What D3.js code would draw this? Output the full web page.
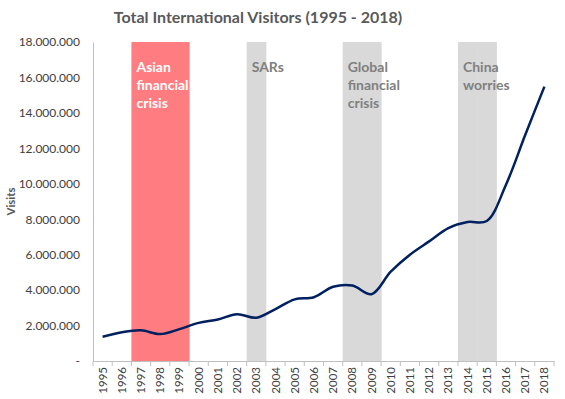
<!DOCTYPE html>
<html><head><meta charset="utf-8">
<script src="https://cdn.jsdelivr.net/npm/d3@7"></script>
<style>body{margin:0;background:#fff}</style>
</head><body>
<script>
const years = d3.range(1995, 2019).map(String);
const visitors = [1370000,1620000,1730000,1520000,1800000,2150000,2340000,2640000,2440000,2930000,3480000,3600000,4190000,4260000,3770000,5040000,6000000,6750000,7500000,7840000,7900000,9950000,12750000,15480000];
const events = [
  {label:["Asian","financial","crisis"], years:["1997","1998","1999"], color:"#FF7C80", text:"#ffffff"},
  {label:["SARs"], years:["2003"], color:"#D9D9D9", text:"#808080"},
  {label:["Global","financial","crisis"], years:["2008","2009"], color:"#D9D9D9", text:"#808080"},
  {label:["China","worries"], years:["2014","2015"], color:"#D9D9D9", text:"#808080"}
];
const yTicks = [0,2000000,4000000,6000000,8000000,10000000,12000000,14000000,16000000,18000000];
const yMax = 18000000;

const W=565,H=399;
const m={l:93,r:11,t:42,b:38};
const svg=d3.select("body").append("svg").attr("width",W).attr("height",H).style("font-family","Lato, 'Open Sans', sans-serif");
const x=d3.scaleBand().domain(years).range([m.l,W-m.r]).padding(0);
const y=d3.scaleLinear().domain([0,yMax]).range([H-m.b,m.t]);

// shaded bands
events.forEach(e=>{
  svg.selectAll(null).data(e.years).enter().append("rect")
    .attr("x",d=>x(d)).attr("width",x.bandwidth()+0.5)
    .attr("y",y(yMax)).attr("height",y(0)-y(yMax)).attr("fill",e.color);
  const t=svg.append("text").attr("x",x(e.years[0])+5).attr("y",y(yMax)+30)
    .attr("fill",e.text).style("font-size","14px").style("font-weight","bold");
  e.label.forEach((l,i)=>t.append("tspan").attr("x",x(e.years[0])+5).attr("dy",i?18:0).text(l));
});

// axes
const fmt=v=>v===0?"-":d3.format(",")(v).replace(/,/g,".");
const ya=svg.append("g").attr("transform",`translate(${m.l},0)`)
  .call(d3.axisLeft(y).tickValues(yTicks).tickFormat(fmt).tickSize(0).tickPadding(13));
ya.select(".domain").attr("stroke","#BFBFBF");
ya.selectAll("text").attr("fill","#404040").style("font-size","12px").style("font-family","Lato, sans-serif");

const xa=svg.append("g").attr("transform",`translate(0,${y(0)})`)
  .call(d3.axisBottom(x).tickSize(0).tickSizeOuter(0));
xa.select(".domain").attr("stroke","#BFBFBF");
xa.selectAll(".tick text").attr("fill","#404040").style("font-size","11.5px").style("font-family","Lato, sans-serif")
  .attr("transform","rotate(-90)").attr("text-anchor","end").attr("x",-6).attr("y",0).attr("dy","0.35em");
// tick marks at band boundaries
svg.append("g").selectAll("line").data(years.concat(["end"])).enter().append("line")
  .attr("x1",(d,i)=>m.l+i*x.bandwidth()).attr("x2",(d,i)=>m.l+i*x.bandwidth())
  .attr("y1",y(0)).attr("y2",y(0)+5).attr("stroke","#BFBFBF");

// line
const line=d3.line().x((d,i)=>x(years[i])+x.bandwidth()/2).y(d=>y(d)).curve(d3.curveCatmullRom.alpha(0.5));
svg.append("path").datum(visitors).attr("d",line).attr("fill","none").attr("stroke","#002060").attr("stroke-width",2.5);

// titles
svg.append("text").attr("x",258).attr("y",23).attr("text-anchor","middle").attr("fill","#595959")
  .style("font-size","16px").style("font-weight","bold").text("Total International Visitors (1995 - 2018)");
svg.append("text").attr("transform",`translate(15,${(y(0)+y(yMax))/2}) rotate(-90)`).attr("text-anchor","middle")
  .attr("fill","#595959").style("font-size","11.5px").style("font-weight","bold").text("Visits");
</script>
</body></html>
